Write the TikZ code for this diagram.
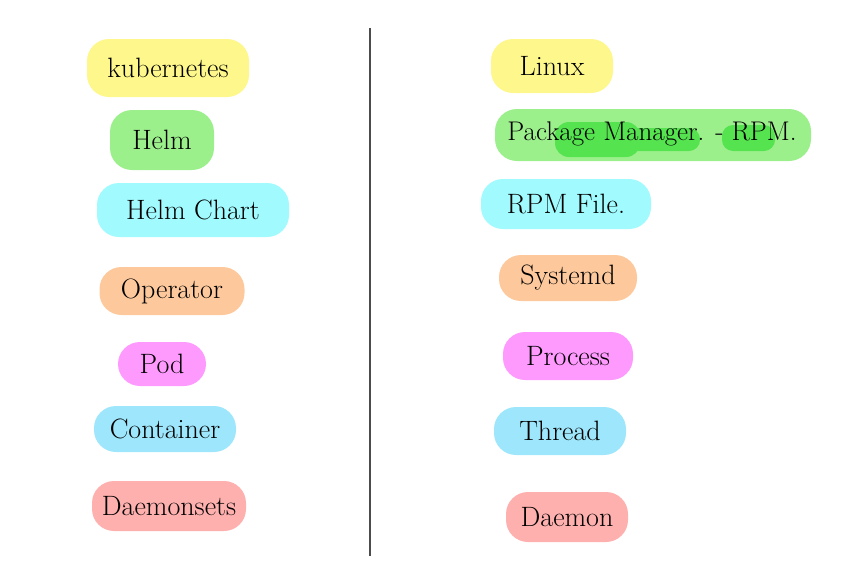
\documentclass[tikz,border=0pt]{standalone}
\begin{document}
\begin{tikzpicture}[x=1pt,y=-1pt,
  hl/.style={fill=#1, draw=none, rounded corners=22pt, inner sep=0pt, font=\fontsize{28}{32}\selectfont, text=black},
  divider/.style={draw=black!70, line width=1.2pt}]
\definecolor{cyel}{HTML}{FDF78C}
\definecolor{cgrn}{HTML}{9CF08C}
\definecolor{cgrndark}{HTML}{55E450}
\definecolor{ccyan}{HTML}{A0FAFE}
\definecolor{corg}{HTML}{FDC99C}
\definecolor{cmag}{HTML}{FE99FE}
\definecolor{cblue}{HTML}{9EE6FB}
\definecolor{cpink}{HTML}{FEB0AE}
\useasboundingbox (0,0) rectangle (865,560);
% divider
\coordinate (dtop) at (370,28);
\coordinate (dbot) at (370,556);
\draw[divider] (dtop) -- (dbot);
% left column
\node[hl=cyel, minimum width=162pt, minimum height=58pt] (k8s) at (168,68) {kubernetes};
\node[hl=cgrn, minimum width=104pt, minimum height=60pt] (helm) at (162,140) {Helm};
\node[hl=ccyan, minimum width=192pt, minimum height=54pt] (chart) at (193,210) {Helm Chart};
\node[hl=corg, minimum width=145pt, minimum height=48pt] (oper) at (172,291) {Operator};
\node[hl=cmag, minimum width=88pt, minimum height=44pt] (pod) at (162,364) {Pod};
\node[hl=cblue, minimum width=142pt, minimum height=46pt] (cont) at (165,429) {Container};
\node[hl=cpink, minimum width=154pt, minimum height=50pt] (daemonsets) at (169,506) {Daemonsets};
% right column
\node[hl=cyel, minimum width=122pt, minimum height=54pt] (linux) at (552,66) {Linux};
\node[hl=cgrn, minimum width=316pt, minimum height=52pt] (pkgbg) at (653,135) {};
\fill[cgrndark, rounded corners=14pt] (555,122) rectangle (640,157);
\fill[cgrndark, rounded corners=11pt] (605,128) rectangle (700,151);
\fill[cgrndark, rounded corners=11pt] (722,125) rectangle (775,151);
\node[font=\fontsize{27}{31}\selectfont, text=black] (pkg) at (652,134) {Package Manager. - RPM.};
\node[hl=ccyan, minimum width=170pt, minimum height=50pt] (rpmfile) at (566,204) {RPM File.};
\node[hl=corg, minimum width=138pt, minimum height=46pt] (systemd) at (568,278) {Systemd};
\node[hl=cmag, minimum width=130pt, minimum height=48pt] (process) at (568,356) {Process};
\node[hl=cblue, minimum width=132pt, minimum height=48pt] (thread) at (560,431) {Thread};
\node[hl=cpink, minimum width=122pt, minimum height=50pt] (daemon) at (567,517) {Daemon};
\end{tikzpicture}
\end{document}
